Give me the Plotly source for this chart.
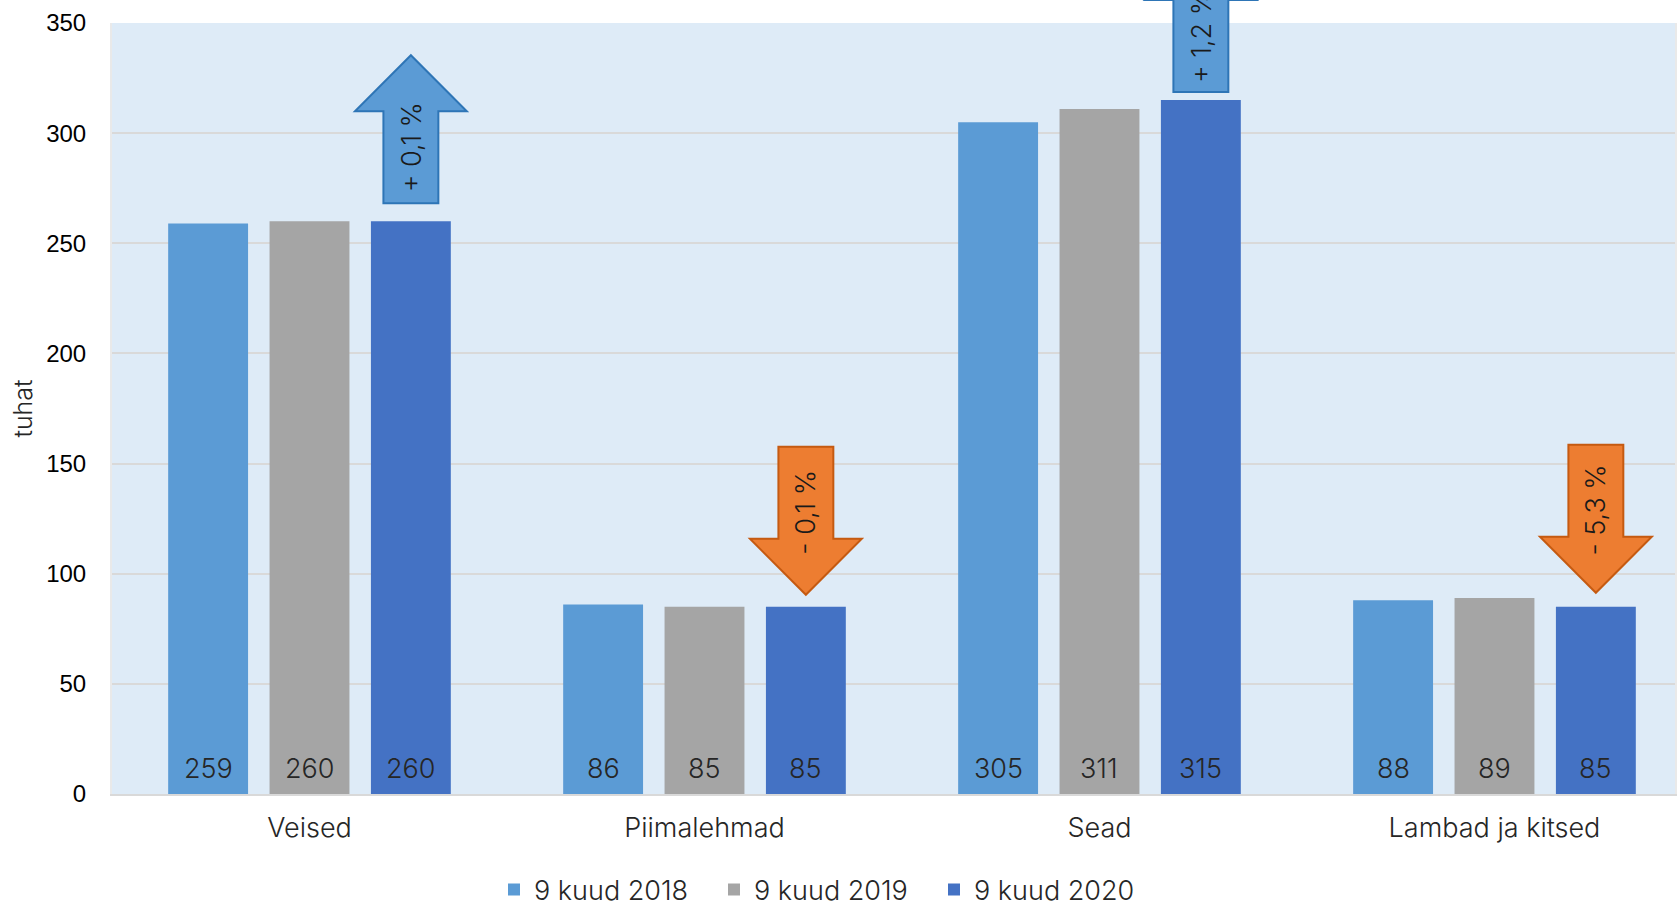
import plotly.graph_objects as go

# ---------------- data ----------------
categories = ["Veised", "Piimalehmad", "Sead", "Lambad ja kitsed"]
series_names = ["9 kuud 2018", "9 kuud 2019", "9 kuud 2020"]
values_2018 = [259, 86, 305, 88]
values_2019 = [260, 85, 311, 89]
values_2020 = [260, 85, 315, 85]
change_labels = ["+ 0,1 %", "- 0,1 %", "+ 1,2 %", "- 5,3 %"]
change_up = [True, False, True, False]
y_ticks = [0, 50, 100, 150, 200, 250, 300, 350]
y_title = "tuhat"

# ---------------- style ----------------
W, H = 1677, 909
M_L, M_R, M_T, M_B = 112, 0, 23, 115
PLOT_W = W - M_L - M_R
PLOT_H = H - M_T - M_B
CAT_PX = 395.5
X_RANGE = [-0.5, -0.5 + PLOT_W / CAT_PX]
Y_RANGE = [0, 350]
BARGAP = 0.23
BARGROUPGAP = 0.212
colors = ["#5B9BD5", "#A5A5A5", "#4472C4"]
LABEL_FONT = "Inter, Lato, 'Open Sans', sans-serif"
LABEL_WEIGHT = 300
LABEL_SIZE = 27
TICK_FONT = "'Liberation Sans Narrow', 'Arial Narrow', 'Liberation Sans', sans-serif"
arrow_gap_px = [18, 12, 8, 14]
UP_FILL, UP_LINE = "#5B9BD5", "#2E75B6"
DOWN_FILL, DOWN_LINE = "#ED7D31", "#C55A11"

series_values = [values_2018, values_2019, values_2020]
xs = list(range(len(categories)))

fig = go.Figure()
for name, vals, col in zip(series_names, series_values, colors):
    fig.add_trace(go.Bar(
        x=xs, y=vals, name=name,
        marker=dict(color=col, line=dict(width=0)),
        hoverinfo="skip",
    ))

slot = (1 - BARGAP) / len(series_names)
offsets = [(j - (len(series_names) - 1) / 2) * slot for j in range(len(series_names))]

annotations = []
# value labels near bar base
for j, vals in enumerate(series_values):
    for i, v in enumerate(vals):
        annotations.append(dict(
            x=i + offsets[j], y=0, xref="x", yref="y",
            text=str(v), showarrow=False, yshift=26,
            font=dict(family=LABEL_FONT, size=LABEL_SIZE, color="#262626", weight=LABEL_WEIGHT),
        ))


def xp(xd):
    return (xd - X_RANGE[0]) / (X_RANGE[1] - X_RANGE[0])


def yp(v):
    return (v - Y_RANGE[0]) / (Y_RANGE[1] - Y_RANGE[0])


shapes = []
hs = 27.5 / PLOT_W
hh = 56 / PLOT_W
for i, (lab, up) in enumerate(zip(change_labels, change_up)):
    cx = xp(i + offsets[-1])
    base = yp(values_2020[i])
    gap = arrow_gap_px[i] / PLOT_H
    if up:
        yb = base + gap
        yh = yb + 92 / PLOT_H
        yt = yb + 148 / PLOT_H
        ty = yb + 56 / PLOT_H
        fill, line = UP_FILL, UP_LINE
    else:
        yt = base + gap            # tip
        yh = yt + 56 / PLOT_H      # head base
        yb = yt + 148 / PLOT_H     # tail
        ty = yt + 83 / PLOT_H
        fill, line = DOWN_FILL, DOWN_LINE
    path = (f"M {cx-hs},{yb} L {cx+hs},{yb} L {cx+hs},{yh} L {cx+hh},{yh} "
            f"L {cx},{yt} L {cx-hh},{yh} L {cx-hs},{yh} Z")
    shapes.append(dict(type="path", path=path, xref="paper", yref="paper",
                       fillcolor=fill, line=dict(color=line, width=2), layer="above"))
    annotations.append(dict(
        x=cx, y=ty, xref="paper", yref="paper", text=lab, showarrow=False,
        textangle=-90, xanchor="center", yanchor="middle",
        font=dict(family=LABEL_FONT, size=LABEL_SIZE, color="#1a1a1a", weight=LABEL_WEIGHT),
    ))

fig.update_layout(
    width=W, height=H,
    margin=dict(l=M_L, r=M_R, t=M_T, b=M_B, pad=0),
    paper_bgcolor="white", plot_bgcolor="#DEEBF7",
    barmode="group", bargap=BARGAP, bargroupgap=BARGROUPGAP,
    showlegend=True,
    legend=dict(orientation="h", xref="container", yref="container",
                x=494 / W, y=0.021, xanchor="left", yanchor="middle",
                font=dict(family=LABEL_FONT, size=LABEL_SIZE, color="#262626", weight=LABEL_WEIGHT),
                itemwidth=30, entrywidth=175, entrywidthmode="pixels",
                traceorder="normal"),
    xaxis=dict(range=X_RANGE, tickvals=xs, ticktext=categories, showgrid=False,
               zeroline=False, showline=True, linecolor="#D9D9D9", linewidth=2,
               ticks="", ticklabelstandoff=9,
               tickfont=dict(family=LABEL_FONT, size=LABEL_SIZE, color="#262626", weight=LABEL_WEIGHT)),
    yaxis=dict(range=Y_RANGE, tickvals=y_ticks, showgrid=True, gridcolor="#D9D9D9",
               gridwidth=1.5, zeroline=False, showline=True, linecolor="#E9E9E9",
               linewidth=2, mirror=True, ticks="", ticklabelstandoff=19,
               tickfont=dict(family=TICK_FONT, size=24, color="#000000"),
               title=dict(text=y_title, standoff=6,
                          font=dict(family=LABEL_FONT, size=25, color="#262626",
                                    weight=LABEL_WEIGHT))),
    shapes=shapes,
    annotations=annotations,
)

fig.write_html(
    "out.html",
    config={"displayModeBar": False},
    post_script="document.body.style.margin='0';document.body.style.overflow='hidden';",
)
